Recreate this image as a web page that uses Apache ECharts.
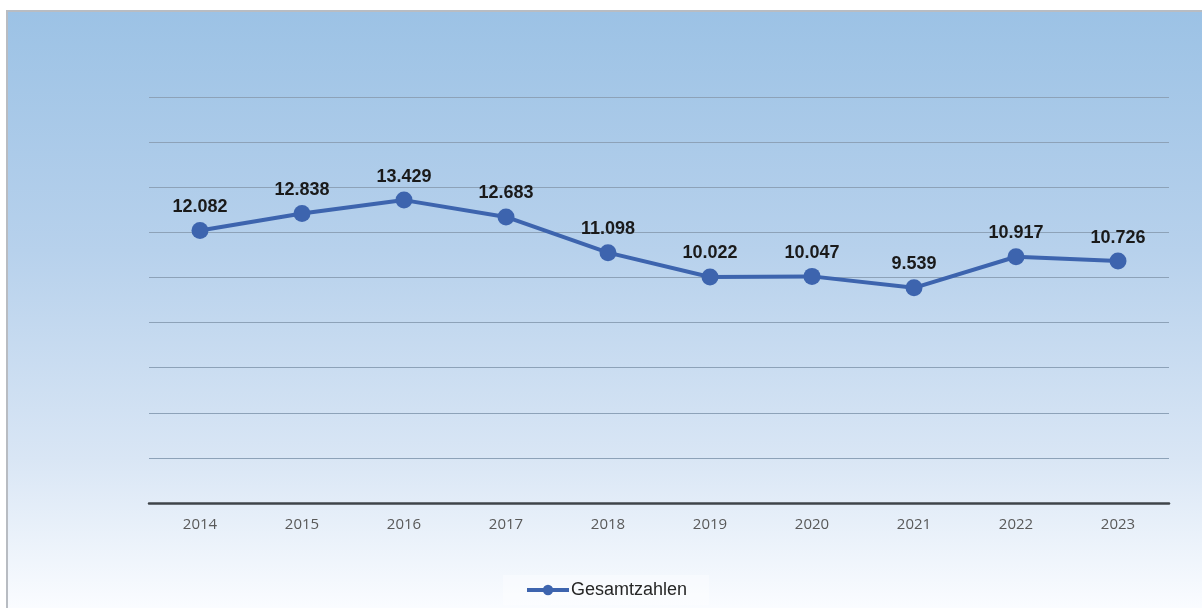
<!DOCTYPE html>
<html>
<head>
<meta charset="utf-8">
<script src="https://cdn.jsdelivr.net/npm/echarts@6/dist/echarts.min.js"></script>
<style>
  html, body { margin: 0; padding: 0; background: #ffffff; }
  #panel {
    position: absolute; left: 6px; top: 10px; width: 1196px; height: 598px;
    box-sizing: border-box;
    border-left: 2px solid #b8bcc2; border-top: 2px solid #b8bcc2;
    background: linear-gradient(to bottom, #9cc2e5 0%, #b7d1ec 40%, #d9e6f5 75%, #fafcff 100%);
  }
  #chart { position: absolute; left: 0; top: 0; width: 1202px; height: 608px; }
</style>
</head>
<body>
<div id="panel"></div>
<div id="chart"></div>
<script>
// Jahre und Gesamtzahlen
const years = ['2014', '2015', '2016', '2017', '2018', '2019', '2020', '2021', '2022', '2023'];
const totals = [12082, 12838, 13429, 12683, 11098, 10022, 10047, 9539, 10917, 10726];
const seriesName = 'Gesamtzahlen';

// Tausenderpunkt im deutschen Format
function fmt(v) {
  return String(v).replace(/\B(?=(\d{3})+(?!\d))/g, '.');
}

const chart = echarts.init(document.getElementById('chart'), null, { renderer: 'canvas' });
chart.setOption({
  backgroundColor: 'transparent',
  animation: false,
  grid: { left: 149, right: 33, top: 97, bottom: 105 },
  xAxis: {
    type: 'category',
    data: years,
    boundaryGap: true,
    axisLine: { lineStyle: { color: '#3f4449', width: 2.5 } },
    axisTick: { show: false },
    axisLabel: { color: '#595959', fontSize: 15, fontFamily: 'Open Sans, Liberation Sans, sans-serif', margin: 14 }
  },
  yAxis: {
    type: 'value',
    min: 0, max: 18000, interval: 2000,
    axisLabel: { show: false },
    axisLine: { show: false },
    axisTick: { show: false },
    splitLine: { lineStyle: { color: '#8da2b8', width: 1 } }
  },
  legend: {
    bottom: 3,
    left: 503,
    data: [seriesName],
    itemWidth: 42,
    itemHeight: 13,
    itemGap: 4,
    padding: [6, 22],
    backgroundColor: 'rgba(255,255,255,0.35)',
    lineStyle: { width: 4 },
    textStyle: { color: '#262626', fontSize: 18, fontFamily: 'Liberation Sans, Arial, sans-serif', padding: [0, 0, 0, -3] }
  },
  series: [{
    name: seriesName,
    type: 'line',
    data: totals,
    symbol: 'circle',
    symbolSize: 17,
    lineStyle: { color: '#3d64ae', width: 4 },
    itemStyle: { color: '#3d64ae' },
    label: {
      show: true,
      position: 'top',
      distance: 6,
      formatter: p => fmt(p.value),
      color: '#1a1a1a',
      fontSize: 18,
      fontWeight: 'bold',
      fontFamily: 'Liberation Sans, Arial, sans-serif'
    }
  }]
});
</script>
</body>
</html>
